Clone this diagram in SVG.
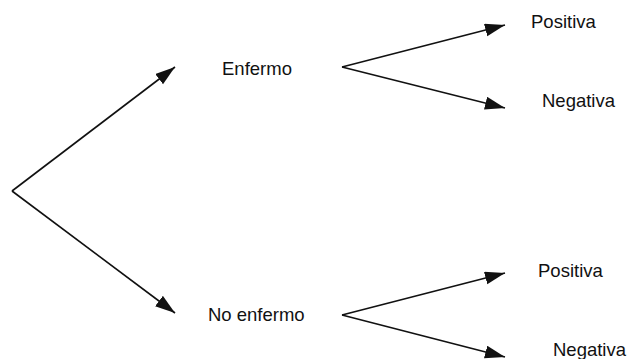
<svg xmlns="http://www.w3.org/2000/svg" width="630" height="359" viewBox="0 0 630 359">
<style>
.lbl{font-family:"Liberation Sans",Arial,sans-serif;font-size:18.5px;fill:#111}
.edge{stroke:#111;stroke-width:1.6;fill:none;marker-end:url(#ah)}
</style>
<defs>
<marker id="ah" markerUnits="userSpaceOnUse" markerWidth="22" markerHeight="14" refX="20" refY="6.5" orient="auto">
<path d="M0,0 L20,6.5 L0,13 z" fill="#111"/>
</marker>
</defs>
<rect width="630" height="359" fill="#fff"/>
<g id="connectors">
<path class="edge" d="M12,191 L175,67"/>
<path class="edge" d="M12,191 L175,313"/>
<path class="edge" d="M342,67 L505,25"/>
<path class="edge" d="M342,67 L505,108"/>
<path class="edge" d="M342,315 L505,273"/>
<path class="edge" d="M342,315 L505,357"/>
</g>
<g id="enfermo"><text class="lbl" x="222" y="75">Enfermo</text></g>
<g id="no-enfermo"><text class="lbl" x="208" y="321">No enfermo</text></g>
<g id="pos1"><text class="lbl" x="531" y="28">Positiva</text></g>
<g id="neg1"><text class="lbl" x="542" y="107">Negativa</text></g>
<g id="pos2"><text class="lbl" x="538" y="277">Positiva</text></g>
<g id="neg2"><text class="lbl" x="553" y="356">Negativa</text></g>
</svg>
